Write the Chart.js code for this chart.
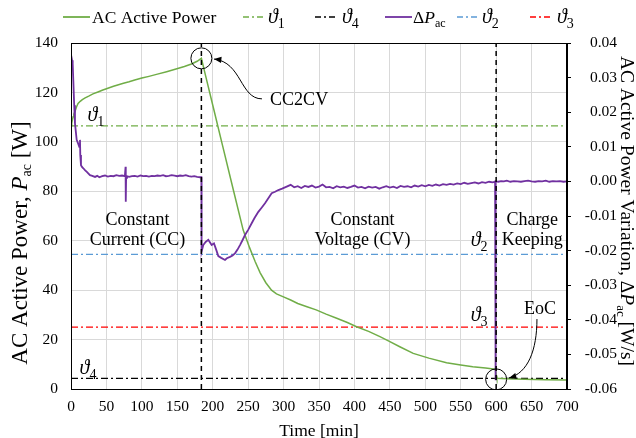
<!DOCTYPE html>
<html><head><meta charset="utf-8">
<script src="https://cdn.jsdelivr.net/npm/chart.js@4.4.1/dist/chart.umd.min.js"></script>
<style>html,body{margin:0;padding:0;background:#fff;}#wrap{width:636px;height:438px;}</style>
</head><body><div id="wrap"><canvas id="c" width="636" height="438"></canvas></div>
<script>
// ---------- data ----------
const powerTime = [0,1,2,3,4,5.6,8,10,13,16,20,25,31,38,45,52,60,67,74,82,90,100,110,122,135,147,160,170,178,184,190,200,214,230,243,252,260,267,275,283,290,299,310,320,333,346,360,375,390,403,420,436,450,464,483,505,530,550,567,585,596,599,600,601,615,640,670,700];
const powerValues = [106.5,107.5,109,110.2,111.2,112.3,114.3,115.5,116.4,117.1,117.8,118.5,119.4,120.2,121,121.7,122.5,123.1,123.7,124.3,125,125.8,126.5,127.4,128.4,129.4,130.5,131.5,132.6,133.8,126.7,114.9,98.4,79.5,64.3,57.2,51.5,47,43,40,38.5,37.4,36,34.6,33.3,32,30.3,28.6,26.9,25.2,23.3,21.2,19.2,17.1,14.4,12.5,10.6,9.7,9.0,8.5,8.1,7.9,5.5,4.3,4.1,3.9,3.7,3.6];

const deltaTime = [0.5,1.5,2.4,3.3,4.5,5.6,7,8,10,11.7,12.7,13.1,14.1,15.5,17.4,20,22,24,26.8,30,33.9,37,40,44,48,52,56,60,64,68,72,76,77,77.3,77.8,79,82,86,90,94,98,102,106,110,114,118,122,126,130,134,138,142,146,150,154,158,162,166,170,174,178,182,184,184.3,186.7,190,193.8,196,198.5,201.8,205,207.9,212,217.3,220,224.4,228,231.4,235,238.5,242,245.6,250,255,259,264.4,269,273.8,278,283.2,288,292.6,298,304.4,310,315,320,325,330,335,340,345,350,355,360,365,370,375,380,385,390,395,400,405,410,415,420,425,430,435,440,445,450,455,460,465,470,475,480,485,490,495,500,505,510,515,520,525,530,535,540,545,550,555,560,565,570,575,580,585,590,595,598.5,599,599.5,603,607,611,615,620,625,630,635,640,645,650,655,660,665,670,675,680,685,690,695,700];
const deltaValues = [0.033,0.035,0.034,0.029,0.022,0.0168,0.014,0.012,0.011,0.010,0.012,0.0076,0.0047,0.0042,0.0038,0.0032,0.0028,0.0024,0.0018,0.0016,0.0013,0.0016,0.0012,0.0015,0.0017,0.0014,0.0016,0.0015,0.0018,0.0016,0.0017,0.0015,0.0042,-0.0059,0.0010,0.0015,0.0013,0.0015,0.0016,0.0014,0.0017,0.0015,0.0016,0.0014,0.0016,0.0015,0.0017,0.0016,0.0018,0.0015,0.0016,0.0018,0.0017,0.0015,0.0017,0.0016,0.0018,0.0015,0.0014,0.0015,0.0013,0.0012,0.0012,-0.0203,-0.0184,-0.0175,-0.0169,-0.0176,-0.0184,-0.0179,-0.0198,-0.0216,-0.0221,-0.0227,-0.0222,-0.0218,-0.0214,-0.0208,-0.0197,-0.0184,-0.0170,-0.0155,-0.0140,-0.0121,-0.0106,-0.0088,-0.0076,-0.0063,-0.0050,-0.0034,-0.0030,-0.0025,-0.0021,-0.0015,-0.0010,-0.0017,-0.0014,-0.0019,-0.0013,-0.0016,-0.0012,-0.0018,-0.0015,-0.0009,-0.0017,-0.0016,-0.0020,-0.0014,-0.0017,-0.0015,-0.0019,-0.0016,-0.0012,-0.0018,-0.0016,-0.0020,-0.0015,-0.0018,-0.0016,-0.0021,-0.0017,-0.0014,-0.0018,-0.0015,-0.0019,-0.0013,-0.0016,-0.0014,-0.0017,-0.0012,-0.0015,-0.0011,-0.0014,-0.0010,-0.0013,-0.0009,-0.0012,-0.0008,-0.0010,-0.0007,-0.0009,-0.0006,-0.0008,-0.0004,-0.0007,-0.0005,-0.0003,-0.0006,-0.0002,-0.0004,-0.0001,-0.0003,-0.0001,-0.0575,0.0001,-0.0001,0.0001,0.0000,0.0002,-0.0001,0.0001,0.0000,-0.0001,0.0001,0.0002,0.0000,-0.0001,0.0001,0.0000,0.0002,-0.0001,0.0001,0.0000,0.0001,-0.0001,0.0000,0.0001];

const thresholdNames = ['ϑ1','ϑ2','ϑ3','ϑ4'];
const thresholdValues = [106.5, 54.5, 25, 4.3];   // W
const eventTimes = [184, 600];                     // CC2CV and EoC instants [min]
const eventPower = [133.8, 3.9];                   // circled points [W]
const xTickStep = 50, leftTickStep = 20, rightTickStep = 0.01;

// ---------- styles ----------
const SERIF = '"Liberation Serif","Times New Roman",serif';
const GREEN = '#70ad47', PURPLE = '#7030a0', BLUE = '#5b9bd5', RED = '#ff0000', BLACK = '#000000';
const thrColors = [GREEN, BLUE, RED, BLACK];
const DASHDOT = [7,3,2,3];

function hline(v){ return [{x:0,y:v},{x:700,y:v}]; }
function vline(t){ return [{x:t,y:0},{x:t,y:140}]; }

const datasets = [];
thresholdNames.forEach((n,i)=>datasets.push({label:n,data:hline(thresholdValues[i]),yAxisID:'y',showLine:true,pointRadius:0,borderColor:thrColors[i],borderWidth:1.3,borderDash:DASHDOT,order:6}));
datasets.push({label:'AC Active Power',data:powerTime.map((t,i)=>({x:t,y:powerValues[i]})),yAxisID:'y',showLine:true,pointRadius:0,borderColor:GREEN,borderWidth:1.5,order:4});
datasets.push({label:'ΔPac',data:deltaTime.map((t,i)=>({x:t,y:deltaValues[i]})),yAxisID:'y1',showLine:true,pointRadius:0,borderColor:PURPLE,borderWidth:1.8,order:3});
eventTimes.forEach(t=>datasets.push({label:'event',data:vline(t),yAxisID:'y',showLine:true,pointRadius:0,borderColor:BLACK,borderWidth:1.5,borderDash:[5,4],order:2}));
datasets.push({label:'marks',data:eventTimes.map((t,i)=>({x:t,y:eventPower[i]})),yAxisID:'y',showLine:false,pointRadius:10.5,pointBorderWidth:1,pointBorderColor:BLACK,pointBackgroundColor:'rgba(0,0,0,0)',order:1});

// ---------- helpers ----------
function rich(ctx,x,y,parts,align){
  let w=0; parts.forEach(p=>{ctx.font=p[1];w+=ctx.measureText(p[0]).width;});
  let cx = align==='center'? x-w/2 : (align==='right'? x-w : x);
  parts.forEach(p=>{ctx.font=p[1];ctx.fillText(p[0],cx,y+(p[2]||0));cx+=ctx.measureText(p[0]).width;});
  return w;
}
function theta(d,size){ return [['ϑ','italic '+size+'px '+SERIF],[d,Math.round(size*0.68)+'px '+SERIF,5]]; }
function arrowHead(ctx,x,y,ang,len){
  ctx.beginPath();
  ctx.moveTo(x,y);
  ctx.lineTo(x-len*Math.cos(ang-0.4),y-len*Math.sin(ang-0.4));
  ctx.lineTo(x-len*Math.cos(ang+0.4),y-len*Math.sin(ang+0.4));
  ctx.closePath(); ctx.fill();
}
// annotation curves in data units (t [min], P [W])
const cc2cvPath = [[269.5,117.4],[238.5,117.4],[241.3,132.3],[201.8,133.5]];
const eocPath = [[657.6,28.3],[657.6,15.8],[645,6.5],[618.1,4.45]];
const textLabels = [
  {lines:['Constant','Current (CC)'], t:94, p:[68.4,60.3]},
  {lines:['Constant','Voltage (CV)'], t:411.4, p:[68.4,60.3]},
  {lines:['Charge','Keeping'], t:651, p:[68.4,60.3]},
];

const decor = {
  id:'decor',
  afterDatasetsDraw(chart){
    const {ctx, chartArea:a, scales:{x,y}} = chart;
    ctx.save();
    ctx.strokeStyle=BLACK; ctx.lineWidth=1; ctx.setLineDash([]);
    ctx.strokeRect(Math.round(a.left)+0.5,Math.round(a.top)+0.5,Math.round(a.right-a.left)-1,Math.round(a.bottom-a.top));
    ctx.fillStyle=BLACK; ctx.textBaseline='middle'; ctx.textAlign='left';
    textLabels.forEach(l=>{ l.lines.forEach((s,i)=>{ ctx.font='18px '+SERIF; ctx.textAlign='center'; ctx.fillText(s,x.getPixelForValue(l.t),y.getPixelForValue(l.p[i])); }); });
    ctx.textAlign='left'; ctx.textBaseline='alphabetic';
    rich(ctx,x.getPixelForValue(35),y.getPixelForValue(110.9)+6,theta('1',20),'center');
    rich(ctx,x.getPixelForValue(24),y.getPixelForValue(8.5)+6,theta('4',20),'center');
    rich(ctx,x.getPixelForValue(576),y.getPixelForValue(60.3)+6,theta('2',20),'center');
    rich(ctx,x.getPixelForValue(576),y.getPixelForValue(29.9)+6,theta('3',20),'center');
    ctx.textBaseline='middle';
    ctx.font='18px '+SERIF; ctx.fillText('CC2CV',x.getPixelForValue(281),y.getPixelForValue(117));
    ctx.textAlign='center'; ctx.fillText('EoC',x.getPixelForValue(662),y.getPixelForValue(32.4));
    [cc2cvPath,eocPath].forEach(path=>{
      const pts=path.map(q=>[x.getPixelForValue(q[0]),y.getPixelForValue(q[1])]);
      ctx.beginPath(); ctx.moveTo(pts[0][0],pts[0][1]);
      ctx.bezierCurveTo(pts[1][0],pts[1][1],pts[2][0],pts[2][1],pts[3][0],pts[3][1]);
      ctx.lineWidth=1; ctx.strokeStyle=BLACK; ctx.stroke();
      const ang=Math.atan2(pts[3][1]-pts[2][1],pts[3][0]-pts[2][0]);
      arrowHead(ctx,pts[3][0],pts[3][1],ang,8);
    });
    ctx.restore();
  },
  afterDraw(chart){
    const ctx=chart.ctx;
    ctx.save(); ctx.fillStyle=BLACK; ctx.textBaseline='alphabetic';
    // legend
    const ly=17, tb=23, F='17.5px '+SERIF;
    const items=[
      {x0:63,x1:90,c:GREEN,dash:[],tx:92,parts:[['AC Active Power',F]]},
      {x0:243,x1:265,c:GREEN,dash:[6,3,2,3],tx:268,parts:theta('1',20)},
      {x0:315,x1:337,c:BLACK,dash:[6,3,2,3],tx:342,parts:theta('4',20)},
      {x0:385,x1:412,c:PURPLE,dash:[],tx:413,parts:[['Δ',F],['P','italic '+F],['ac','12px '+SERIF,4]]},
      {x0:457,x1:478,c:BLUE,dash:[6,3,2,3],tx:482,parts:theta('2',20)},
      {x0:530,x1:551,c:RED,dash:[6,3,2,3],tx:557,parts:theta('3',20)},
    ];
    items.forEach(it=>{
      ctx.beginPath(); ctx.setLineDash(it.dash); ctx.strokeStyle=it.c; ctx.lineWidth=it.dash.length?1.3:1.8;
      ctx.moveTo(it.x0,ly); ctx.lineTo(it.x1,ly); ctx.stroke(); ctx.setLineDash([]);
      rich(ctx,it.tx,tb,it.parts,'left');
    });
    // left axis title
    ctx.save(); ctx.translate(20,243); ctx.rotate(-Math.PI/2);
    const L=23;
    rich(ctx,0,7,[['AC Active Power, ',L+'px '+SERIF],['P','italic '+L+'px '+SERIF],['ac',Math.round(L*0.62)+'px '+SERIF,4],[' [W]',L+'px '+SERIF]],'center');
    ctx.restore();
    // right axis title
    ctx.save(); ctx.translate(628,211); ctx.rotate(Math.PI/2);
    const R=19.5;
    rich(ctx,0,7,[['AC Active Power Variation, Δ',R+'px '+SERIF],['P','italic '+R+'px '+SERIF],['ac',Math.round(R*0.65)+'px '+SERIF,4],[' [W/s]',R+'px '+SERIF]],'center');
    ctx.restore();
    ctx.restore();
  }
};

const tickFont = {family:SERIF,size:15.5};
new Chart(document.getElementById('c'),{
  type:'scatter',
  data:{datasets},
  options:{
    responsive:false, animation:false,
    layout:{padding:{top:43,right:19,left:0,bottom:0}},
    plugins:{legend:{display:false},tooltip:{enabled:false}},
    scales:{
      x:{type:'linear',min:0,max:700,
        ticks:{stepSize:xTickStep,color:BLACK,font:tickFont,padding:9,maxRotation:0,autoSkip:false},
        grid:{color:'#d9d9d9',drawTicks:false},
        border:{color:BLACK,width:1},
        title:{display:true,text:'Time [min]',color:BLACK,font:{family:SERIF,size:17.5},padding:{top:0,bottom:-4}},
        afterFit(s){s.height=49;}},
      y:{position:'left',min:0,max:140,
        ticks:{stepSize:leftTickStep,color:BLACK,font:tickFont,padding:13},
        grid:{color:'#d9d9d9',drawTicks:false},
        border:{color:BLACK,width:1},
        afterFit(s){s.width=71;}},
      y1:{position:'right',min:-0.06,max:0.04,
        ticks:{stepSize:rightTickStep,color:BLACK,font:tickFont,padding:6,crossAlign:'far',
          callback:v=>Math.abs(v)<1e-9?'0.00':v.toFixed(2)},
        grid:{drawOnChartArea:false,drawTicks:true,tickLength:4,tickColor:BLACK},
        border:{color:BLACK,width:1},
        afterFit(s){s.width=50;}}
    }
  },
  plugins:[decor]
});
</script></body></html>
